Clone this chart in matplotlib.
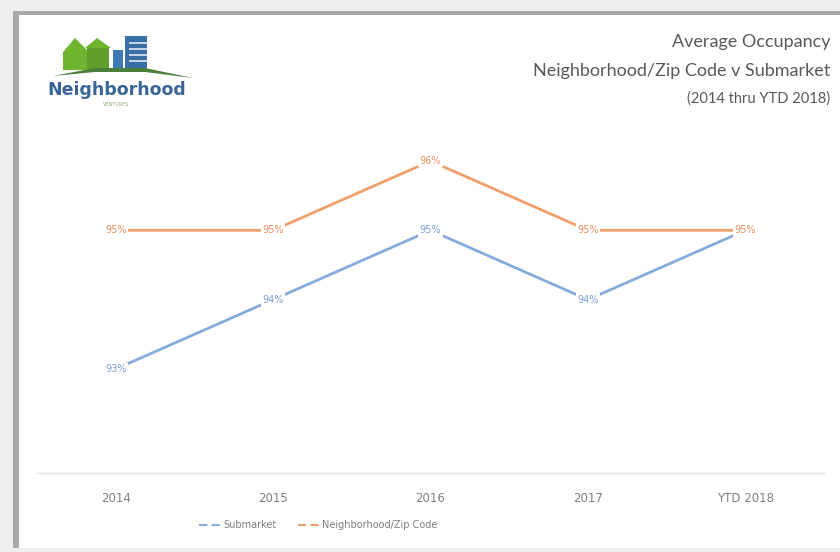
import matplotlib
matplotlib.use("Agg")
import matplotlib.pyplot as plt
from matplotlib.patches import Rectangle, Polygon
from matplotlib.lines import Line2D

categories = ["2014", "2015", "2016", "2017", "YTD 2018"]
submarket = [93, 94, 95, 94, 95]
neighborhood = [95, 95, 96, 95, 95]
series_names = ["Submarket", "Neighborhood/Zip Code"]
title_lines = ["Average Occupancy", "Neighborhood/Zip Code v Submarket", "(2014 thru YTD 2018)"]

W, H = 840, 552
fig = plt.figure(figsize=(W / 100, H / 100), dpi=100)
fig.patch.set_facecolor("#eeeeee")

def fx(px):
    return px / W

def fy(py):
    return 1 - py / H

# screenshot frame (behind everything)
fig.add_artist(Rectangle((fx(13), fy(548)), 1, fy(11) - fy(548), transform=fig.transFigure,
                         fc="#a8a8a8", ec="none", zorder=-10))
fig.add_artist(Rectangle((fx(19), fy(548)), 1, fy(15) - fy(548), transform=fig.transFigure,
                         fc="white", ec="none", zorder=-9))

blue = "#86acdb"
orange = "#f0a06a"

ax = fig.add_axes([fx(37), fy(473), fx(824) - fx(37), fy(57) - fy(473)])
ax.patch.set_alpha(0)
x = list(range(len(categories)))
ax.plot(x, submarket, color=blue, linewidth=2, zorder=2)
ax.plot(x, neighborhood, color=orange, linewidth=2, zorder=2)
for xi, v in zip(x, submarket):
    ax.text(xi, v, f"{v}%", ha="center", va="center", fontsize=7, color="#7aa0d0",
            bbox=dict(boxstyle="square,pad=0.15", fc="white", ec="none"), zorder=3)
for xi, v in zip(x, neighborhood):
    ax.text(xi, v, f"{v}%", ha="center", va="center", fontsize=7, color="#ec9062",
            bbox=dict(boxstyle="square,pad=0.15", fc="white", ec="none"), zorder=3)

ax.set_xlim(-0.5, len(categories) - 0.5)
ax.set_ylim(91.5, 97.5)
ax.set_yticks([])
ax.set_xticks(x)
ax.set_xticklabels(categories, fontsize=8.5, color="#808080")
ax.tick_params(axis="x", length=0, pad=14)
for s in ["top", "right", "left"]:
    ax.spines[s].set_visible(False)
ax.spines["bottom"].set_color("#e3e3e3")
ax.spines["bottom"].set_linewidth(1)

handles = [Line2D([0], [0], color=blue, linewidth=1.5, linestyle=(0, (4, 2))),
           Line2D([0], [0], color=orange, linewidth=1.5, linestyle=(0, (4, 2)))]
fig.legend(handles, series_names, loc="center", bbox_to_anchor=(fx(318), fy(525)),
           ncol=2, frameon=False, fontsize=7, labelcolor="#808080",
           handlelength=2.2, columnspacing=2.2, handletextpad=0.3)

# title
tys = [42, 71, 99]
tsz = [13, 13, 10.5]
for t, y, s in zip(title_lines, tys, tsz):
    fig.text(fx(830), fy(y), t, ha="right", va="center", fontsize=s, color="#595959",
             family="Lato")

# logo
green = "#6fb430"
bblue = "#3f79b4"
lx = fig.add_axes([fx(45), fy(112), fx(200) - fx(45), fy(30) - fy(112)])
lx.set_xlim(0, 155)
lx.set_ylim(82, 0)
lx.axis("off")
lx.add_patch(Polygon([[18, 40], [18, 22], [30, 8], [42, 20], [42, 40]], closed=True, fc=green, ec="none"))
lx.add_patch(Rectangle((42, 18), 22, 22, fc="#5f9e2a", ec="none"))
lx.add_patch(Polygon([[40, 18], [52, 8], [66, 18]], closed=True, fc=green, ec="none"))
lx.add_patch(Rectangle((68, 20), 10, 20, fc=bblue, ec="none"))
lx.add_patch(Rectangle((80, 6), 22, 34, fc="#3a6ea6", ec="none"))
for yy in [12, 18, 24, 30]:
    lx.add_patch(Rectangle((84, yy), 18, 2.2, fc="white", ec="none", alpha=0.7))
lx.add_patch(Polygon([[8, 46], [50, 38], [100, 38], [148, 48], [100, 42], [50, 42]], closed=True,
                     fc="#4a7f3a", ec="none"))
lx.text(2, 60, "Neighborhood", fontsize=12.5, fontweight="bold", color="#3a6497", va="center", ha="left")
lx.text(58, 74, "VENTURES", fontsize=3.5, color="#8aaa70", va="center", ha="left")

fig.savefig("out.png", dpi=100, facecolor=fig.get_facecolor())
